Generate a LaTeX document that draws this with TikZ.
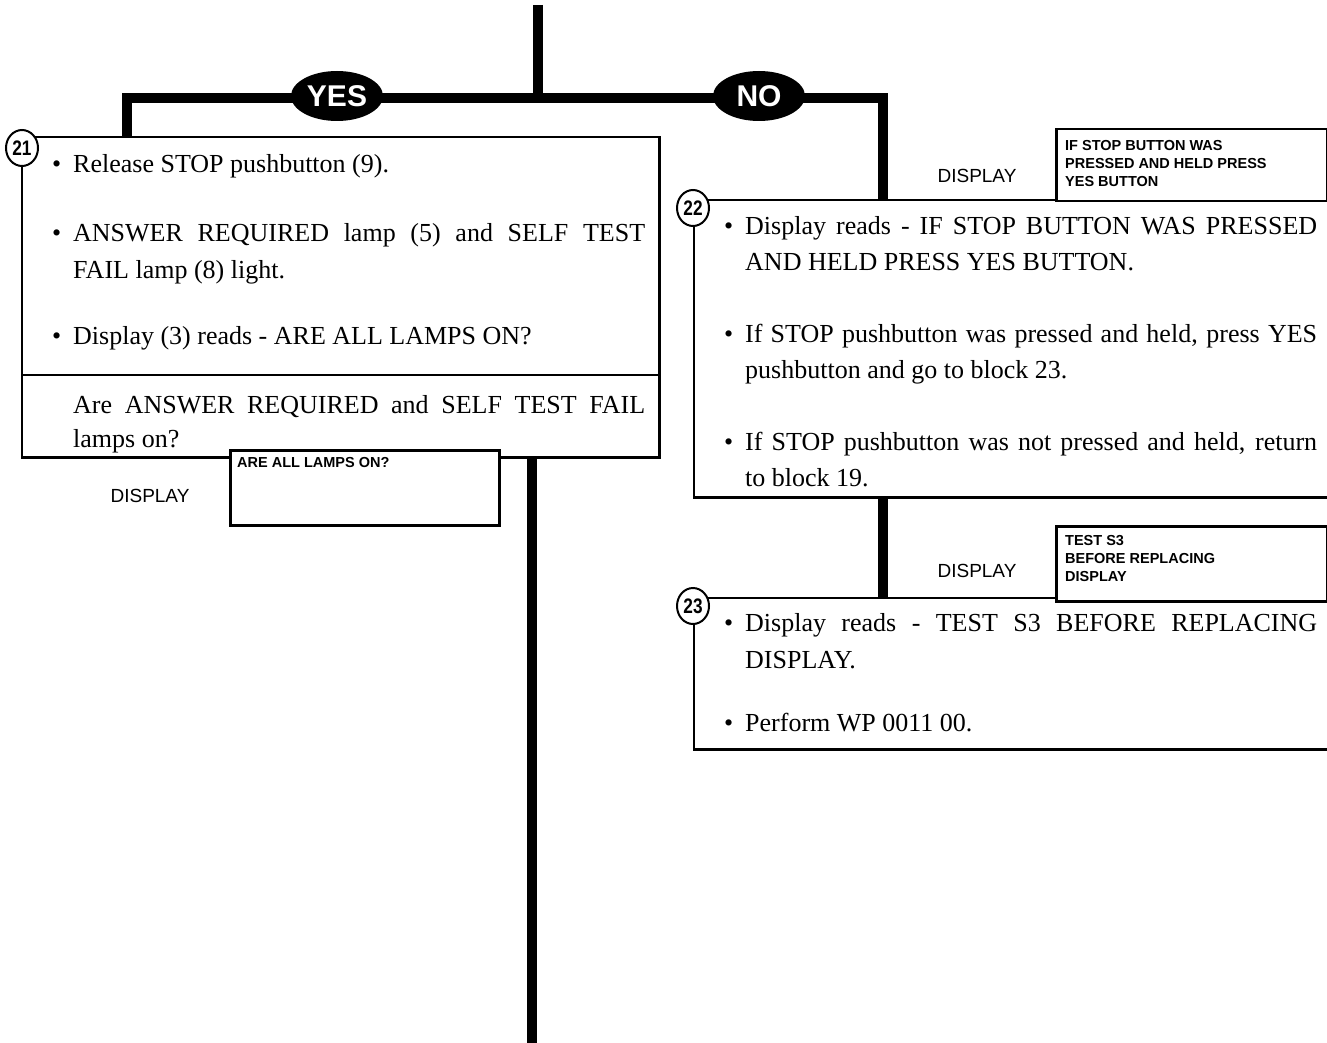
\documentclass[tikz,border=0pt]{standalone}
\usepackage{fontspec}
\setmainfont{Liberation Serif}
\newfontfamily\arial{Liberation Sans}
\usetikzlibrary{shapes.geometric,calc}
\newcommand\mybul{\llap{\textbullet\hspace{12pt}}}
\newcommand\jline[1]{\makebox[572pt][s]{#1}}
\newcommand\narrow[1]{\scalebox{0.82}[1]{#1}}
\begin{document}
\begin{tikzpicture}[x=1pt,y=-1pt,
  flow/.style={line width=10pt, line join=miter, line cap=butt},
  boxline/.style={line width=2.5pt},
  frame/.style={rectangle, anchor=north west, inner sep=0pt},
  ans/.style={ellipse, fill=black, text=white, inner sep=0pt,
    minimum width=92pt, minimum height=50pt,
    font=\arial\bfseries\fontsize{30}{30}\selectfont},
  numc/.style={ellipse, draw, line width=2pt, fill=white, inner sep=0pt,
    minimum width=32pt, minimum height=36pt,
    font=\arial\bfseries\fontsize{21}{21}\selectfont},
  dispbox/.style={rectangle, draw, line width=2.5pt, fill=white, anchor=north west, inner sep=0pt},
  disptext/.style={anchor=north west, inner sep=0pt, align=left,
    font=\arial\bfseries\fontsize{14.5}{18.3}\selectfont},
  lbl/.style={inner sep=0pt, font=\arial\fontsize{19}{19}\selectfont},
  bodyline/.style={anchor=base west, inner sep=0pt, font=\fontsize{26}{36}\selectfont}
]
\useasboundingbox (0,0) rectangle (1327,1043);

% main frames
\node[frame, minimum width=637pt, minimum height=320pt] (box21) at (22,137) {};
\node[frame, minimum width=633pt, minimum height=297pt] (box22) at (694,200) {};
\node[frame, minimum width=633pt, minimum height=151pt] (box23) at (694,598) {};

\draw[boxline] (box21.north west) rectangle (box21.south east);
\coordinate (div) at (0,375);
\draw[boxline] (box21.west |- div) -- (box21.east |- div);
\draw[boxline] (box22.north east) -- (box22.north west) -- (box22.south west) -- (box22.south east);
\draw[boxline] (box23.north east) -- (box23.north west) -- (box23.south west) -- (box23.south east);

% flow lines
\coordinate (top) at (538,5);
\coordinate (split) at (538,98);
\coordinate (lt) at (127,98);
\coordinate (rt) at (883,98);
\coordinate (bt) at (532,1043);
\draw[flow] (top) -- (split);
\draw[flow] (box21.north -| lt) -- (lt) -- (rt) -- (box22.north -| rt);
\draw[flow] (box22.south -| rt) -- (box23.north -| rt);
\draw[flow] (box21.south -| bt) -- (bt);

\node[ans] (yes) at (337,96) {YES};
\node[ans] (no) at (759,96) {NO};

% display boxes
\node[dispbox, minimum width=271pt, minimum height=72pt] (d1) at (1055,128) {};
\node[disptext] (d1t) at ($(d1.north west)+(10,12)$) {IF STOP BUTTON WAS\\PRESSED AND HELD PRESS\\YES BUTTON};
\node[lbl] (l1) at (977,176) {DISPLAY};

\node[dispbox, minimum width=271pt, minimum height=75pt] (d2) at (1055,525) {};
\node[disptext] (d2t) at ($(d2.north west)+(10,10)$) {TEST S3\\BEFORE REPLACING\\DISPLAY};
\node[lbl] (l2) at (977,571) {DISPLAY};

\node[dispbox, minimum width=269pt, minimum height=75pt] (d3) at (229,449) {};
\node[disptext] (d3t) at ($(d3.north west)+(8,8)$) {ARE ALL LAMPS ON?};
\node[lbl] (l3) at (150,496) {DISPLAY};

% step numbers
\node[numc] (c21) at (22,148) {\narrow{21}};
\node[numc] (c22) at (693,208) {\narrow{22}};
\node[numc] (c23) at (693,606) {\narrow{23}};

% block 21 text
\node[bodyline] (t21a) at (73,173) {\mybul Release STOP pushbutton (9).};
\node[bodyline] (t21b) at (73,241) {\jline{\mybul ANSWER REQUIRED lamp (5) and SELF TEST}};
\node[bodyline] (t21c) at (73,278) {FAIL lamp (8) light.};
\node[bodyline] (t21d) at (73,344) {\mybul Display (3) reads - ARE ALL LAMPS ON?};
\node[bodyline] (t21e) at (73,413) {\jline{Are ANSWER REQUIRED and SELF TEST FAIL}};
\node[bodyline] (t21f) at (73,447) {lamps on?};

% block 22 text
\node[bodyline] (t22a) at (745,234) {\jline{\mybul Display reads - IF STOP BUTTON WAS PRESSED}};
\node[bodyline] (t22b) at (745,270) {AND HELD PRESS YES BUTTON.};
\node[bodyline] (t22c) at (745,342) {\jline{\mybul If STOP pushbutton was pressed and held, press YES}};
\node[bodyline] (t22d) at (745,378) {pushbutton and go to block 23.};
\node[bodyline] (t22e) at (745,450) {\jline{\mybul If STOP pushbutton was not pressed and held, return}};
\node[bodyline] (t22f) at (745,486) {to block 19.};

% block 23 text
\node[bodyline] (t23a) at (745,631) {\jline{\mybul Display reads - TEST S3 BEFORE REPLACING}};
\node[bodyline] (t23b) at (745,668) {DISPLAY.};
\node[bodyline] (t23c) at (745,731) {\mybul Perform WP 0011 00.};
\end{tikzpicture}
\end{document}
